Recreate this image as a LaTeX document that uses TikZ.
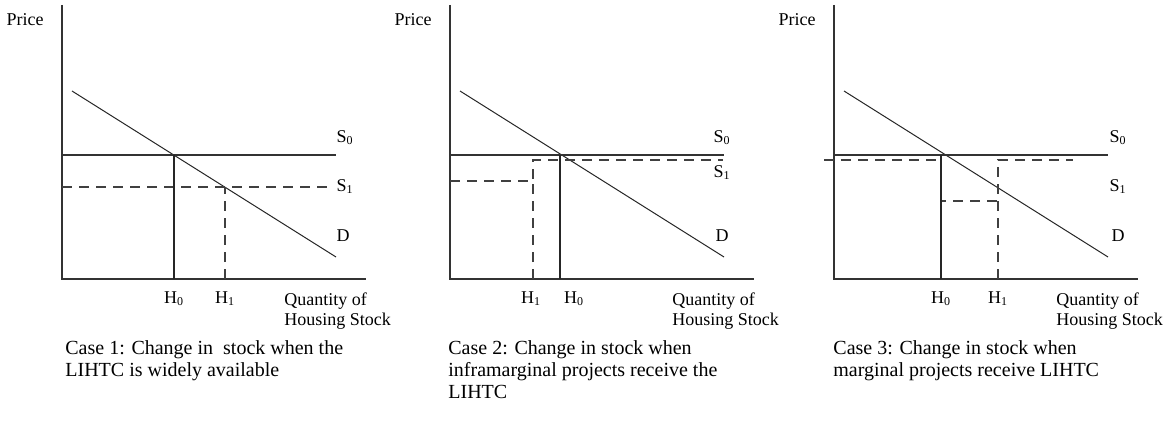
\documentclass[tikz,border=0pt]{standalone}
\usepackage{fontspec}
\setmainfont{Liberation Serif}
\usetikzlibrary{positioning}

\begin{document}
\begin{tikzpicture}[
  x=0.5pt,y=0.5pt,
  lbl/.style={inner sep=0pt,font=\fontsize{9}{10}\selectfont},
  ql/.style={lbl,align=left,anchor=north west},
  capt/.style={inner sep=0pt,align=left,anchor=north west,
               font=\fontsize{10}{11}\selectfont},
  axis/.style={draw=black!80,line width=1pt},
  supply/.style={draw=black!80,line width=0.8pt},
  dem/.style={draw=black!85,line width=0.5pt},
  hl/.style={draw=black!85,line width=0.6pt},
  dsh/.style={draw=black!75,line width=0.6pt,dash pattern=on 5pt off 3.5pt}]

\useasboundingbox (0,0) rectangle (1166,434);

% axes, demand and S0 (same in all three cases)
\foreach \px/\n in {62/a,450/b,834/c} {
  \begin{scope}[shift={(\px,155)}]
    \draw[axis] (0,274) -- (0,0) -- (304,0);
    \draw[dem] (10,188) -- (274,22);
    \draw[supply] (0,124) -- (274,124);
    \node[lbl] (price\n) at (-37,259) {Price};
    \node[ql] (qty\n) at (222,-13) {Quantity of\\Housing Stock};
  \end{scope}
}

% case 1
\begin{scope}[shift={(62,155)}]
  \draw[dsh] (0,92) -- (268,92);
  \draw[hl] (112,0) -- (112,124);
  \draw[dsh] (163,0) -- (163,92);
  \node[lbl] (s0a) at (283,141) {S\textsubscript{0}};
  \node[lbl] (s1a) at (283,92) {S\textsubscript{1}};
  \node[lbl] (da) at (281,43) {D};
  \node[lbl] (h0a) at (112,-20) {H\textsubscript{0}};
  \node[lbl] (h1a) at (163,-20) {H\textsubscript{1}};
  \node[capt] (capa) at (3,-61) {Case 1: Change in\ \ stock when the\\LIHTC is widely available};
\end{scope}

% case 2
\begin{scope}[shift={(450,155)}]
  \draw[dsh] (0,98) -- (83,98) -- (83,119) -- (273,119);
  \draw[dsh] (83,0) -- (83,98);
  \draw[hl] (110,0) -- (110,124);
  \node[lbl] (s0b) at (272,141) {S\textsubscript{0}};
  \node[lbl] (s1b) at (272,106) {S\textsubscript{1}};
  \node[lbl] (db) at (272,43) {D};
  \node[lbl] (h1b) at (81,-20) {H\textsubscript{1}};
  \node[lbl] (h0b) at (124,-20) {H\textsubscript{0}};
  \node[capt] (capb) at (-2,-61) {Case 2: Change in stock when\\inframarginal projects receive the\\LIHTC};
\end{scope}

% case 3
\begin{scope}[shift={(834,155)}]
  \draw[dsh] (-10,119) -- (107,119) -- (107,78) -- (164,78);
  \draw[dsh] (164,0) -- (164,119) -- (239,119);
  \draw[hl] (107,0) -- (107,124);
  \node[lbl] (s0c) at (284,141) {S\textsubscript{0}};
  \node[lbl] (s1c) at (284,92) {S\textsubscript{1}};
  \node[lbl] (dc) at (284,43) {D};
  \node[lbl] (h0c) at (107,-20) {H\textsubscript{0}};
  \node[lbl] (h1c) at (164,-20) {H\textsubscript{1}};
  \node[capt] (capc) at (-1,-61) {Case 3: Change in stock when\\marginal projects receive LIHTC};
\end{scope}
\end{tikzpicture}
\end{document}
